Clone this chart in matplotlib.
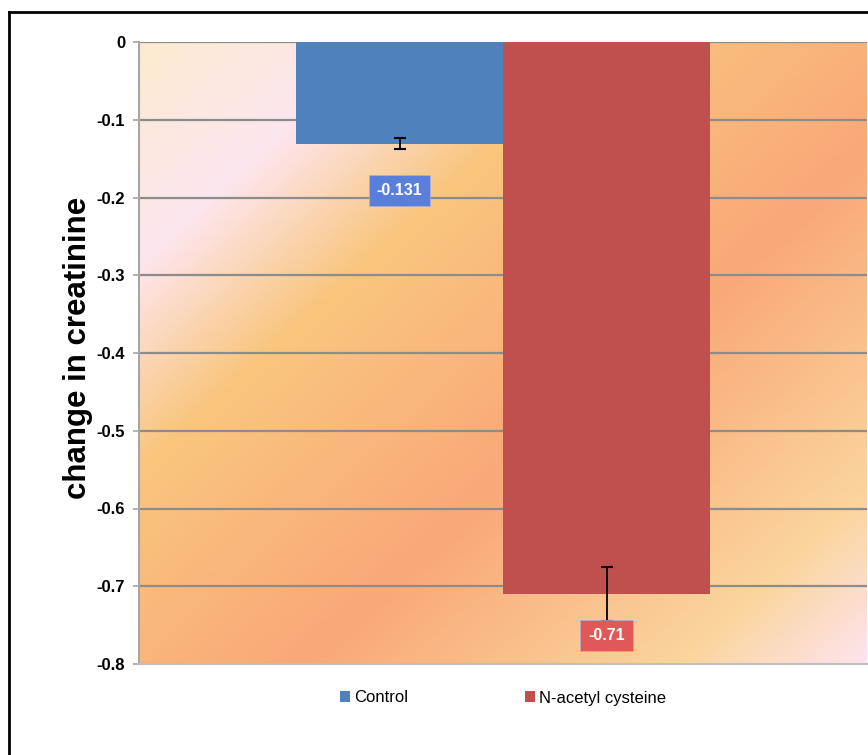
import numpy as np
import matplotlib
matplotlib.use("Agg")
import matplotlib.pyplot as plt
from matplotlib.colors import LinearSegmentedColormap
from matplotlib.patches import Patch
from matplotlib.lines import Line2D

series = ["Control", "N-acetyl cysteine"]
values = [-0.131, -0.71]
errors = [0.007, 0.035]
colors = ["#4F81BD", "#C0504D"]
label_colors = ["#5A7FDA", "#E05858"]
label_texts = ["-0.131", "-0.71"]
yticks = [0, -0.1, -0.2, -0.3, -0.4, -0.5, -0.6, -0.7, -0.8]
ytick_labels = ["0", "-0.1", "-0.2", "-0.3", "-0.4", "-0.5", "-0.6", "-0.7", "-0.8"]
ylabel = "change in creatinine"

FONT = "Liberation Sans"

W, H = 868, 755
fig = plt.figure(figsize=(W / 100, H / 100), dpi=100)
fig.patch.set_facecolor("white")

L, R, T, B = 139, 867, 42, 664
ax = fig.add_axes([L / W, 1 - B / H, (R - L) / W, (B - T) / H])

# gradient background
nx, ny = 400, 340
xs = np.linspace(0, R - L, nx)
ys = np.linspace(0, B - T, ny)
X, Y = np.meshgrid(xs, ys)
tt = (X + 1.1 * Y) / ((R - L) + 1.1 * (B - T))
cmap = LinearSegmentedColormap.from_list("bg", [
    (0.0, "#FCEBD0"), (0.17, "#FDE6EF"), (0.33, "#F9C67E"),
    (0.6, "#F9A878"), (0.87, "#FBD59E"), (1.0, "#FDE4EE")])
ax.imshow(tt, cmap=cmap, vmin=0, vmax=1, extent=[0, 1, 0, 1], transform=ax.transAxes,
          aspect="auto", origin="upper", zorder=0, interpolation="bilinear")

w = 207 / (R - L)
xpos = [-w / 2, w / 2]
ax.set_xlim(-0.5, 0.5)
ax.set_ylim(-0.8, 0)

for yv in yticks[:-1]:
    ax.axhline(yv, color="#8C8C8C", lw=1.6, zorder=1)

bars = ax.bar(xpos, values, width=w, color=colors, zorder=2, linewidth=0)
ax.errorbar(xpos, values, yerr=errors, fmt="none", ecolor="black", elinewidth=1.3,
            capsize=4, capthick=1.5, zorder=3)

offsets = [-47, -41]
for x, v, t, c, off in zip(xpos, values, label_texts, label_colors, offsets):
    ax.annotate(t, (x, v), xytext=(0, off), textcoords="offset pixels", ha="center", va="center",
                color="white", fontsize=11.5, fontweight="bold", family=FONT, zorder=5,
                bbox=dict(boxstyle="square,pad=0.5", fc=c, ec="#B0B0D0", lw=0.5))

ax.set_yticks(yticks)
ax.set_yticklabels(ytick_labels, fontsize=12, fontweight="bold", family=FONT)
ax.set_xticks([])
for s in ["top", "right"]:
    ax.spines[s].set_visible(False)
ax.spines["left"].set_color("#A6A6A6")
ax.spines["left"].set_linewidth(1.5)
ax.spines["bottom"].set_color("#BFBFBF")
ax.spines["bottom"].set_linewidth(1.5)
ax.tick_params(axis="y", length=4, width=1.2, color="#A6A6A6", pad=6)

fig.text(78 / W, 1 - 348 / H, ylabel, rotation=90, ha="center", va="center",
         fontsize=22.5, fontweight="bold", family=FONT)

handles = [Patch(facecolor=c, edgecolor="none") for c in colors]
leg = fig.legend(handles, series, loc="center", bbox_to_anchor=(503 / W, 1 - 698 / H), ncol=2,
                 frameon=False, handlelength=0.6, handleheight=0.6, handletextpad=0.25,
                 columnspacing=7.0, prop=dict(family=FONT, size=12))

# outer border
fig.add_artist(Line2D([9 / W, 9 / W], [0, 1 - 12 / H], color="black", lw=2, transform=fig.transFigure))
fig.add_artist(Line2D([9 / W, 1], [1 - 12 / H, 1 - 12 / H], color="black", lw=2, transform=fig.transFigure))

fig.savefig("out.png", dpi=100)
